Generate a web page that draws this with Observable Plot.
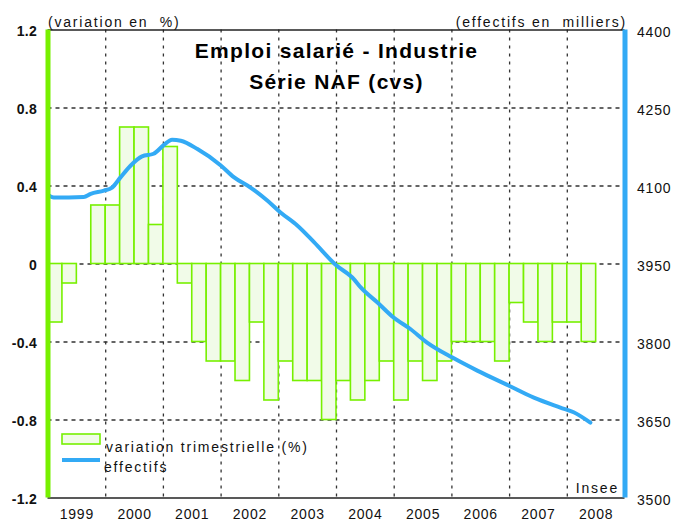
<!DOCTYPE html>
<html><head><meta charset="utf-8">
<script src="https://cdn.jsdelivr.net/npm/d3@7"></script>
<script src="https://cdn.jsdelivr.net/npm/@observablehq/plot@0.6"></script>
<style>
body{margin:0;background:#fff;}
#chart svg{font-family:"Liberation Sans",Arial,sans-serif;overflow:visible;}
</style></head><body><div id="chart"></div>
<script>
const years = [1999,2000,2001,2002,2003,2004,2005,2006,2007,2008];
// quarterly variation (%), 1999 T1 .. 2008 T2
const barValues = [-0.3,-0.1,0,0.3, 0.3,0.7,0.7,0.2, 0.6,-0.1,-0.4,-0.5, -0.5,-0.6,-0.3,-0.7,
  -0.5,-0.6,-0.6,-0.8, -0.6,-0.7,-0.6,-0.5, -0.7,-0.5,-0.6,-0.5, -0.4,-0.4,-0.4,-0.5,
  -0.2,-0.3,-0.4,-0.3, -0.3,-0.4];
// effectifs (milliers)
const lineTimes = [1999.00,1999.10,1999.62,1999.74,1999.97,2000.11,2000.26,2000.43,2000.63,2000.83,
  2001.01,2001.15,2001.30,2001.59,2001.99,2002.22,2002.51,2002.80,2003.03,2003.32,
  2003.61,2003.98,2004.30,2004.42,2004.71,2004.99,2005.28,2005.57,2006.01,2006.44,
  2006.99,2007.42,2007.88,2008.11,2008.40];
const lineValues = [4083,4078,4079,4085,4091,4097,4117,4139,4157,4162,
  4179,4189,4187,4171,4140,4117,4097,4072,4049,4024,
  3992,3949,3921,3905,3876,3847,3825,3799,3770,3745,
  3716,3693,3674,3665,3645];
const leftTicks = [-1.2,-0.8,-0.4,0,0.4,0.8,1.2];
const rightTicks = [3500,3650,3800,3950,4100,4250,4400];
const gridY = [-0.8,-0.4,0,0.4,0.8];
const title1 = "Emploi salarié - Industrie";
const title2 = "Série NAF (cvs)";
const leftLabel = "(variation en  %)";
const rightLabel = "(effectifs en  milliers)";
const source = "Insee";
const legendLabels = ["variation trimestrielle (%)", "effectifs"];

const GREEN = "#77f000", BLUE = "#33aaf5", FILL = "#f1fbe8";
const toLeft = v => (v - 3950) * 0.4 / 150;
const fromLeft = y => Math.round(y * 150 / 0.4 + 3950);

const bars = barValues.map((v, i) => ({x1: 1999 + i / 4, x2: 1999 + (i + 1) / 4, v}));
const line = lineTimes.map((t, i) => ({t, v: toLeft(lineValues[i])}));

const plot = Plot.plot({
  width: 675, height: 522,
  marginLeft: 47.5, marginRight: 50.5, marginTop: 29.5, marginBottom: 24.5,
  x: {domain: [1999, 2009]},
  y: {domain: [-1.2, 1.2]},
  style: {fontFamily: '"Liberation Sans", Arial, sans-serif', fontSize: "14px", color: "#111"},
  marks: [
    Plot.ruleX(years.slice(1), {stroke: "#333", strokeDasharray: "3,5", strokeWidth: 1.3}),
    Plot.ruleY(gridY, {stroke: "#333", strokeDasharray: "4,4", strokeWidth: 1.3}),
    Plot.rect(bars, {x1: "x1", x2: "x2", y1: 0, y2: "v", fill: FILL, stroke: GREEN, strokeWidth: 1.6}),
    Plot.line(line, {x: "t", y: "v", stroke: BLUE, strokeWidth: 4, curve: "monotone-x"}),
    Plot.ruleY([1.2, -1.2], {stroke: "#222", strokeWidth: 1.5}),
    Plot.ruleX([1999], {stroke: GREEN, strokeWidth: 5}),
    Plot.ruleX([2009], {stroke: BLUE, strokeWidth: 5}),
    Plot.axisY(leftTicks, {anchor: "left", tickSize: 0, tickPadding: 11, fontWeight: "bold", fontSize: 14, dy: 2, tickFormat: d => String(d), label: null}),
    Plot.axisY(rightTicks.map(toLeft), {anchor: "right", tickSize: 0, tickPadding: 12, fontSize: 14, dy: 3, tickFormat: d => String(fromLeft(d)), label: null}),
    Plot.axisX(years.map(y => y + 0.5), {tickSize: 0, tickPadding: 11, fontSize: 14, tickFormat: d => String(Math.floor(d)), label: null}),
    Plot.text([title1], {frameAnchor: "top", dy: 28, lineAnchor: "bottom", fontWeight: "bold", fontSize: 21, fill: "#000"}),
    Plot.text([title2], {frameAnchor: "top", dy: 59, lineAnchor: "bottom", fontWeight: "bold", fontSize: 21, fill: "#000"}),
    Plot.text([leftLabel], {frameAnchor: "top-left", dx: 0, dy: -3, textAnchor: "start", lineAnchor: "bottom", fontSize: 14}),
    Plot.text([rightLabel], {frameAnchor: "top-right", dx: 2, dy: -3, textAnchor: "end", lineAnchor: "bottom", fontSize: 14}),
    Plot.text([source], {frameAnchor: "bottom-right", dx: -6, dy: -5, textAnchor: "end", lineAnchor: "bottom", fontSize: 14})
  ]
});

const svg = d3.select(plot);
svg.selectAll("text").each(function() {
  const t = d3.select(this);
  const s = t.text();
  const bold = d3.select(this.parentNode).attr("font-weight") === "bold";
  if (s === title1 || s === title2) t.attr("letter-spacing", "1.3px");
  else if (bold) t.attr("letter-spacing", "0.3px");
  else if (/^\d{4}$/.test(s)) t.attr("letter-spacing", "0.8px");
  else t.attr("letter-spacing", "1.8px");
});

// legend
const lg = svg.append("g").attr("font-size", 14).attr("letter-spacing", "1.8px")
  .attr("fill", "#111").attr("text-anchor", "start");
lg.append("rect").attr("x", 62).attr("y", 434).attr("width", 38).attr("height", 10)
  .attr("fill", FILL).attr("stroke", GREEN).attr("stroke-width", 1.6);
lg.append("text").attr("x", 106).attr("y", 452).text(legendLabels[0]);
lg.append("line").attr("x1", 62).attr("x2", 100).attr("y1", 460).attr("y2", 460)
  .attr("stroke", BLUE).attr("stroke-width", 4);
lg.append("text").attr("x", 104).attr("y", 472).text(legendLabels[1]);

document.getElementById("chart").appendChild(plot);
</script></body></html>
